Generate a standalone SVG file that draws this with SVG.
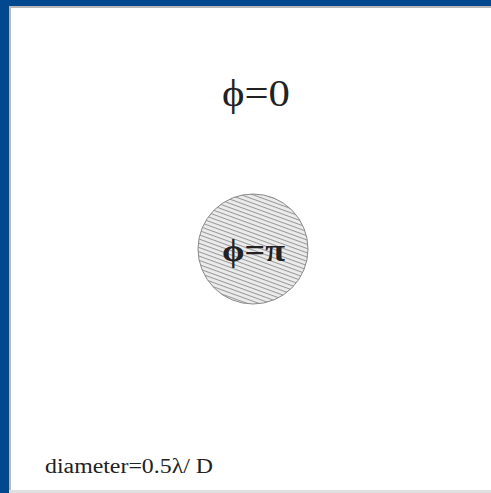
<svg xmlns="http://www.w3.org/2000/svg" width="491" height="493" viewBox="0 0 491 493">
<style>
.t{font-family:"Liberation Serif","Times New Roman",serif;fill:#222}
</style>
<defs>
<pattern id="hatch" patternUnits="userSpaceOnUse" width="4" height="4" patternTransform="rotate(20)">
<rect width="4" height="4" fill="#ececec"/>
<line x1="0" y1="0.5" x2="4" y2="0.5" stroke="#9a9a9a" stroke-width="1.1"/>
</pattern>
</defs>
<rect x="0" y="0" width="491" height="493" fill="#02488f"/>
<rect x="9" y="6" width="482" height="487" fill="#b8b8b8"/>
<rect x="11" y="8" width="480" height="482" fill="#ffffff"/>
<rect x="9" y="490" width="482" height="3" fill="#e0e0e0"/>
<g id="outer">
<text class="t" x="222" y="106" font-size="37" textLength="68" lengthAdjust="spacingAndGlyphs">ϕ=0</text>
</g>
<g id="disk">
<circle cx="253" cy="249" r="55" fill="url(#hatch)" stroke="#8a8a8a" stroke-width="1"/>
<text class="t" x="222" y="261" font-size="32" font-weight="bold" textLength="63" lengthAdjust="spacingAndGlyphs">ϕ=π</text>
</g>
<g id="label">
<text class="t" x="45" y="473" font-size="20" textLength="168" lengthAdjust="spacingAndGlyphs">diameter=0.5λ/ D</text>
</g>
</svg>
